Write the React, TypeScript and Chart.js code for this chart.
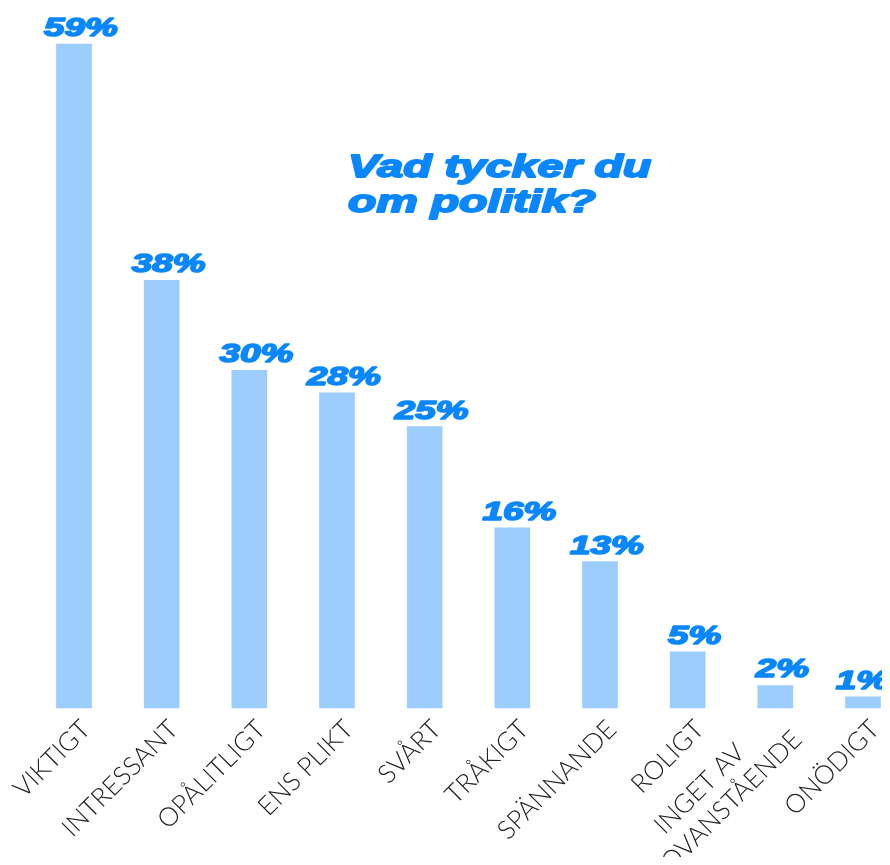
import React, { useEffect, useRef } from "react";
import { Chart, registerables } from "chart.js";

Chart.register(...registerables);

const categories: (string | string[])[] = [
  "VIKTIGT",
  "INTRESSANT",
  "OPÅLITLIGT",
  "ENS PLIKT",
  "SVÅRT",
  "TRÅKIGT",
  "SPÄNNANDE",
  "ROLIGT",
  ["INGET AV       ", "OVANSTÅENDE"],
  "ONÖDIGT",
];
const values: number[] = [59, 38, 30, 28, 25, 16, 13, 5, 2, 1];
const titleLines: string[] = ["Vad tycker du", "om politik?"];

const BAR_COLOR = "#9ccdfe";
const ACCENT = "#0a87ff";

function heavyText(ctx: CanvasRenderingContext2D, text: string, x: number, y: number, sx: number) {
  ctx.save();
  ctx.translate(x, y);
  ctx.scale(sx, 1);
  ctx.fillText(text, 0, 0);
  ctx.strokeText(text, 0, 0);
  ctx.restore();
}

// centre multi-line tick labels around the anchor (like the reference)
const centerMultiLine = {
  id: "centerMultiLine",
  beforeDraw(chart: any) {
    const scale = chart.scales.x;
    const items = scale.getLabelItems();
    items.forEach((item: any) => {
      if (Array.isArray(item.label) && !item._centered) {
        item.textOffset -= 17;
        item._centered = true;
      }
    });
  },
};

const labelPlugin = {
  id: "valueLabels",
  afterDatasetsDraw(chart: any) {
    const ctx = chart.ctx as CanvasRenderingContext2D;
    const meta = chart.getDatasetMeta(0);
    ctx.save();
    ctx.fillStyle = ACCENT;
    ctx.strokeStyle = ACCENT;
    ctx.lineWidth = 1.6;
    ctx.lineJoin = "round";
    ctx.font = "italic bold 26px 'Liberation Sans'";
    ctx.textAlign = "center";
    ctx.textBaseline = "alphabetic";
    const sx = 1.42;
    meta.data.forEach((bar: any, i: number) => {
      const txt = values[i] + "%";
      const half = (ctx.measureText(txt).width * sx) / 2;
      const x = Math.min(bar.x + 7, chart.width - half - 1);
      heavyText(ctx, txt, x, bar.y - 8, sx);
    });
    const area = chart.chartArea;
    ctx.textAlign = "left";
    ctx.lineWidth = 1.8;
    ctx.font = "italic bold 31px 'Liberation Sans'";
    titleLines.forEach((line, i) => {
      heavyText(ctx, line, area.left + 274, area.top + 133 + i * 35, 1.5);
    });
    ctx.restore();
  },
};

export default function App() {
  const ref = useRef<HTMLCanvasElement | null>(null);
  useEffect(() => {
    if (!ref.current) return;
    const chart = new Chart(ref.current, {
      type: "bar",
      data: {
        labels: categories,
        datasets: [
          {
            data: values,
            backgroundColor: BAR_COLOR,
            barThickness: 35,
            borderWidth: 0,
            clip: false,
          } as any,
        ],
      },
      options: {
        animation: false,
        responsive: true,
        maintainAspectRatio: false,
        layout: { padding: { left: 66, right: 27, top: 36, bottom: 0 } },
        plugins: { legend: { display: false }, tooltip: { enabled: false } },
        scales: {
          x: {
            offset: false,
            grid: { display: false, drawTicks: false },
            border: { display: false },
            ticks: {
              autoSkip: false,
              minRotation: 45,
              maxRotation: 45,
              padding: 6,
              labelOffset: 12,
              color: "#222",
              font: { family: "Lato", size: 26, weight: 300, lineHeight: 1.2 },
            },
            afterFit: (s: any) => {
              s.height = 149;
              s.paddingLeft = 0;
              s.paddingRight = 0;
            },
          },
          y: {
            display: false,
            min: 0,
            max: 59,
          },
        },
      },
      plugins: [centerMultiLine, labelPlugin],
    });
    return () => chart.destroy();
  }, []);
  return (
    <div style={{ position: "relative", width: 882, height: 849 }}>
      <canvas ref={ref} />
    </div>
  );
}
